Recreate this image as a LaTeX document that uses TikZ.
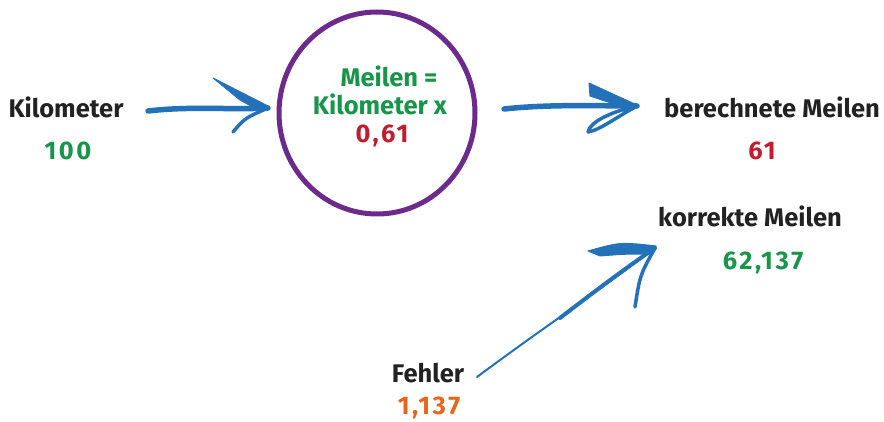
\documentclass[tikz,border=0pt]{standalone}
\usepackage{fontspec}
\setmainfont{Fira Sans}
\usetikzlibrary{shapes.geometric,calc}
\definecolor{arrblue}{HTML}{2271B9}
\definecolor{circpurple}{HTML}{6B2A8C}
\definecolor{txtgreen}{HTML}{17964A}
\definecolor{txtred}{HTML}{C01E2E}
\definecolor{txtorange}{HTML}{E8661C}
\definecolor{txtblack}{HTML}{222222}
\tikzset{
  lbl/.style={anchor=base, inner sep=0pt, font=\fontsize{25.5}{28}\selectfont\bfseries, text=txtblack},
  num/.style={lbl, text=#1, font=\fontsize{25.5}{28}\selectfont\bfseries\addfontfeatures{LetterSpace=10}},
  frm/.style={lbl, text=#1},
  shaft/.style={draw=arrblue, line width=5.5pt, line cap=round, line join=round},
  wing/.style={draw=arrblue, line width=3.5pt, line cap=round, line join=round},
  wedge/.style={fill=arrblue, draw=arrblue, line width=1pt, line join=round},
  ring/.style={draw=circpurple, line width=5pt, ellipse, minimum width=196pt, minimum height=202pt, inner sep=0pt}
}
\begin{document}
\begin{tikzpicture}[x=1pt,y=-1pt]
\useasboundingbox (0,0) rectangle (884,422);
% texts
\node[lbl] (km) at (66,118) {Kilometer};
\node[num=txtgreen] (kmv) at (68,160) {100};
\node[ring] (circ) at (377,113) {};
\node[frm=txtgreen] (f1) at (389,87) {Meilen =};
\node[frm=txtgreen] (f2) at (380,115) {Kilometer x};
\node[num=txtred] (f3) at (382,143) {0,61};
\node[lbl] (bm) at (772,118) {berechnete Meilen};
\node[num=txtred] (bmv) at (762,160) {61};
\node[lbl] (km2) at (750,227) {korrekte Meilen};
\node[num=txtgreen] (kmv2) at (763,270) {62,137};
\node[lbl] (fe) at (428,382) {Fehler};
\node[num=txtorange] (fev) at (429,414) {1,137};
% arrow coordinates
\coordinate (a1s) at (148,111);
\coordinate (a1t) at (268,108);
\coordinate (a2s) at (504,109);
\coordinate (a2t) at (637,106);
\coordinate (a3s) at (477,377);
\coordinate (a3t) at (655,248);
% arrow 1
\draw[shaft] (a1s) .. controls (190,106) and (230,110) .. (a1t);
\draw[wedge] (213,78) -- (268,106) -- (258,110) -- (240,100) -- cycle;
\draw[wing] (a1t) .. controls (245,118) .. (233,132);
% arrow 2
\draw[shaft] (a2s) .. controls (550,104) and (600,106) .. (a2t);
\draw[wedge] (589,83) -- (590,96) -- (626,108) -- (637,105) .. controls (615,95) .. cycle;
\draw[wing] (a2t) .. controls (610,112) and (590,122) .. (588,132) .. controls (600,130) and (615,118) .. (a2t);
% arrow 3
\draw[draw=arrblue, line width=2pt, line cap=round] (a3s) .. controls (540,330) and (600,290) .. (a3t);
\draw[draw=arrblue, line width=4pt, line cap=round] (560,318) .. controls (590,295) and (620,272) .. (a3t);
\draw[wedge] (588,251) .. controls (620,242) .. (656,246) -- (650,254) .. controls (625,254) .. (600,256) -- cycle;
\draw[wing] (a3t) .. controls (640,275) .. (635,307);
\end{tikzpicture}
\end{document}
